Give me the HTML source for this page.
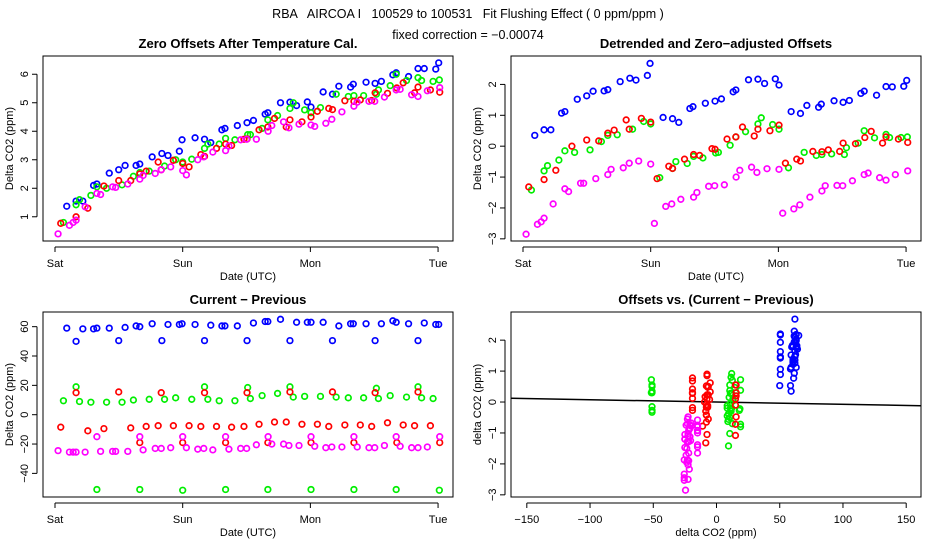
<!DOCTYPE html>
<html><head><meta charset="utf-8">
<style>
body{margin:0;background:#fff;}
svg{display:block;font-family:"Liberation Sans",sans-serif;}
</style></head>
<body>
<svg id="c" width="936" height="540" viewBox="0 0 936 540">
<text x="468" y="18" text-anchor="middle" font-size="12.5" style="white-space:pre">RBA   AIRCOA I   100529 to 100531   Fit Flushing Effect ( 0 ppm/ppm )</text>
<text x="468" y="39" text-anchor="middle" font-size="12.5">fixed correction = −0.00074</text>
</svg>
<script>
const colorNames=['blue','green','red','magenta'];
const colors=['#0000ff','#00ee00','#ff0000','#ff00ff'];
const blueTime=[0.092,0.165,0.218,0.302,0.328,0.425,0.499,0.549,0.635,0.664,0.761,0.837,0.885,0.974,0.995,1.097,1.171,1.220,1.307,1.331,1.428,1.504,1.554,1.646,1.667,1.766,1.840,1.892,1.976,2.005,2.100,2.173,2.223,2.315,2.336,2.436,2.507,2.556,2.646,2.672,2.769,2.843,2.892,2.982,3.005];
const blueOffset=[1.37,1.55,1.55,2.1,2.15,2.53,2.65,2.8,2.8,2.85,3.1,3.22,3.15,3.3,3.7,3.77,3.72,3.6,4.05,4.1,4.2,4.3,4.38,4.6,4.65,5.0,5.02,4.9,5.03,4.85,5.38,5.3,5.58,5.55,5.65,5.72,5.68,5.75,5.98,6.05,5.92,6.2,6.2,6.18,6.4];
const blueDetrended=[0.35,0.53,0.53,1.07,1.12,1.52,1.63,1.78,1.79,1.83,2.09,2.2,2.14,2.29,2.68,0.93,0.89,0.77,1.22,1.28,1.39,1.46,1.53,1.76,1.82,2.15,2.17,2.03,2.18,1.98,1.12,1.06,1.32,1.26,1.36,1.47,1.42,1.48,1.71,1.78,1.65,1.93,1.92,1.94,2.13];
const blueDiff=[59,50,58.5,58.5,59,59,50.5,59.5,60.5,60,62,50.5,61.5,61.5,62,61.5,50.5,61,60.5,60.5,60.5,50.5,62.5,63.5,63.5,65,50.5,63,63,63,63,50.5,60.5,62,62,62,50.5,62,64,63,62,50.5,62.5,61.5,61.5];
const greenTime=[0.066,0.165,0.192,0.281,0.328,0.404,0.525,0.614,0.664,0.738,0.858,0.945,1.0,1.071,1.171,1.197,1.286,1.336,1.409,1.509,1.530,1.622,1.667,1.743,1.840,1.866,1.955,2.005,2.079,2.202,2.297,2.341,2.417,2.517,2.533,2.625,2.672,2.753,2.843,2.871,2.961,3.010];
const greenOffset=[0.8,1.42,1.6,1.75,2.05,2.0,2.12,2.42,2.55,2.6,2.78,3.0,2.92,3.02,3.4,3.55,3.55,3.75,3.7,3.88,3.88,4.1,4.4,4.55,4.8,5.0,4.75,4.65,4.83,5.3,5.22,5.25,5.25,5.3,5.45,5.6,6.0,5.78,5.88,5.78,5.75,5.8];
const greenDetrended=[-1.42,-0.8,-0.63,-0.45,-0.15,-0.2,-0.12,0.15,0.35,0.37,0.55,0.8,0.72,-1.02,-0.72,-0.5,-0.56,-0.33,-0.38,-0.22,-0.2,0.03,0.3,0.47,0.72,0.92,0.7,0.55,-0.7,-0.2,-0.3,-0.27,-0.25,-0.27,-0.05,0.1,0.5,0.27,0.38,0.28,0.28,0.3];
const greenDiff=[9.5,19,9,8.5,-51,8.5,8.5,10,-51,10.5,10.5,11.5,-51.5,10.5,19,10.5,9.5,-51,9.5,18.5,11,13,-51,14.5,19,12,12.5,-51,12.5,12,11.5,-51,11.5,18,11,13,-51,12,19,11.5,11,-51.5];
const redTime=[0.045,0.165,0.257,0.383,0.499,0.593,0.664,0.714,0.808,0.832,0.927,1.0,1.050,1.142,1.171,1.265,1.336,1.383,1.480,1.504,1.598,1.667,1.719,1.811,1.840,1.934,2.005,2.055,2.144,2.173,2.270,2.341,2.391,2.480,2.507,2.604,2.677,2.727,2.816,2.843,2.940,3.013];
const redOffset=[0.77,1.0,1.3,2.08,2.27,2.27,2.5,2.6,2.92,2.65,2.98,2.87,2.75,3.18,3.12,3.4,3.55,3.5,3.72,3.73,4.05,4.15,4.45,4.15,4.4,4.33,4.5,4.7,4.8,4.76,5.07,5.05,5.1,5.08,5.35,5.33,5.52,5.7,5.35,5.55,5.45,5.37];
const redDetrended=[-1.32,-1.08,-0.78,0.0,0.2,0.17,0.42,0.52,0.85,0.55,0.9,0.78,-1.05,-0.65,-0.72,-0.42,-0.27,-0.3,-0.08,-0.1,0.23,0.3,0.62,0.33,0.55,0.5,0.68,-0.55,-0.42,-0.48,-0.17,-0.18,-0.12,-0.17,0.1,0.08,0.28,0.48,0.1,0.3,0.23,0.12];
const redDiff=[-8.5,15,-11,-9.5,15.5,-9,-19,-8,-7.5,15,-7.5,-19,-7.5,-8,15,-8,-19,-8.5,-8,15,-6.5,-19,-5,-5,15.5,-6.5,-19,-6.5,-8,15.5,-7,-19,-7,-8,15,-5.5,-19,-7,-7.5,15.5,-7.5,-19];
const magentaTime=[0.024,0.113,0.142,0.165,0.236,0.328,0.357,0.451,0.475,0.570,0.664,0.690,0.785,0.832,0.906,1.0,1.029,1.118,1.165,1.236,1.336,1.362,1.454,1.501,1.577,1.669,1.698,1.790,1.832,1.911,2.005,2.034,2.121,2.168,2.247,2.341,2.367,2.459,2.504,2.580,2.672,2.703,2.793,2.843,2.916,3.013];
const magentaOffset=[0.4,0.7,0.8,0.88,1.35,1.82,1.78,2.05,2.03,2.15,2.32,2.45,2.52,2.65,2.75,2.62,2.47,3.0,3.1,3.27,3.32,3.48,3.7,3.72,3.72,4.0,4.2,4.33,4.12,4.25,4.22,4.17,4.28,4.42,4.68,4.88,5.02,5.05,5.05,5.2,5.45,5.47,5.28,5.22,5.42,5.53];
const magentaDetrended=[-2.85,-2.53,-2.45,-2.33,-1.87,-1.38,-1.47,-1.2,-1.2,-1.05,-0.92,-0.75,-0.7,-0.55,-0.48,-0.58,-2.5,-1.95,-1.87,-1.72,-1.65,-1.5,-1.3,-1.28,-1.25,-1.0,-0.78,-0.68,-0.85,-0.73,-0.75,-2.17,-2.03,-1.9,-1.65,-1.45,-1.28,-1.27,-1.28,-1.12,-0.92,-0.87,-1.02,-1.1,-0.92,-0.8];
const magentaDiff=[-24.5,-25.5,-25.5,-25.5,-25.5,-15,-25,-25,-25,-25,-15,-24,-23,-23,-22.5,-15,-22.5,-23.5,-23,-24,-15,-23.5,-23,-23,-20.5,-15,-20,-20,-21,-21,-15,-21.5,-22.5,-22,-22,-15,-22,-22.5,-22.5,-21,-15,-21.5,-22.5,-22.5,-22,-15];
const dayTickLabels=['Sat','Sun','Mon','Tue'];
const dayTicks=[0,1,2,3];
const offsetTicks=[1,2,3,4,5,6];
const detrendTicks=[-3,-2,-1,0,1,2];
const diffTicks=[-40,-20,0,20,40,60];
const diffXTicks=[-150,-100,-50,0,50,100,150];
const fixedCorrection=-0.00074;

const series=[
 {t:blueTime,o:blueOffset,d:blueDetrended,f:blueDiff},
 {t:greenTime,o:greenOffset,d:greenDetrended,f:greenDiff},
 {t:redTime,o:redOffset,d:redDetrended,f:redDiff},
 {t:magentaTime,o:magentaOffset,d:magentaDetrended,f:magentaDiff}];

const NS='http://www.w3.org/2000/svg';
const svg=document.getElementById('c');
function mk(tag,attrs,parent){const e=document.createElementNS(NS,tag);for(const k in attrs)e.setAttribute(k,attrs[k]);(parent||svg).appendChild(e);return e;}
function lin(d0,d1,r0,r1){return v=>r0+(v-d0)*(r1-r0)/(d1-d0);}

function panel(o){
 const g=mk('g',{});
 
 
 const sx=lin(o.xd[0],o.xd[1],o.box[0],o.box[2]);
 const sy=lin(o.yd[0],o.yd[1],o.box[3],o.box[1]);
 const t=mk('text',{x:(o.box[0]+o.box[2])/2,y:o.box[1]-8,'text-anchor':'middle','font-size':'13','font-weight':'bold'},g);
 t.textContent=o.title;
 
 
 const r=mk('rect',{x:o.box[0],y:o.box[1],width:o.box[2]-o.box[0],height:o.box[3]-o.box[1],fill:'none',stroke:'#000','stroke-width':1},g);
 
 
 const xa=mk('g',{},g);
 
 
 const ax=o.box[3]+6;
 mk('line',{x1:sx(o.xt[0]),x2:sx(o.xt[o.xt.length-1]),y1:ax,y2:ax,stroke:'#000'},xa);
 o.xt.forEach((v,i)=>{
  const x=sx(v);
  mk('line',{x1:x,x2:x,y1:ax,y2:ax+5,stroke:'#000'},xa);
  const l=mk('text',{x:x,y:ax+20,'text-anchor':'middle','font-size':'11'},xa);
  l.textContent=o.xl[i];
  
  
 });
 const xt=mk('text',{x:(o.box[0]+o.box[2])/2,y:ax+33,'text-anchor':'middle','font-size':'11'},xa);
 xt.textContent=o.xtitle;
 
 
 const ya=mk('g',{},g);
 
 
 const ayx=o.box[0]-6;
 mk('line',{x1:ayx,x2:ayx,y1:sy(o.yt[0]),y2:sy(o.yt[o.yt.length-1]),stroke:'#000'},ya);
 o.yt.forEach(v=>{
  const y=sy(v);
  mk('line',{x1:ayx-5,x2:ayx,y1:y,y2:y,stroke:'#000'},ya);
  const l=mk('text',{x:0,y:0,'text-anchor':'middle','font-size':'11',transform:`translate(${ayx-9},${y}) rotate(-90)`},ya);
  l.textContent=String(v).replace('-','−');
  
  
 });
 const yt=mk('text',{x:0,y:0,'text-anchor':'middle','font-size':'11',transform:`translate(${o.box[0]-30},${(o.box[1]+o.box[3])/2}) rotate(-90)`},ya);
 yt.textContent=o.ytitle;
 
 
 if(o.line){
  const ln=mk('line',{x1:sx(o.xd[0]),x2:sx(o.xd[1]),y1:sy(o.line*o.xd[0]),y2:sy(o.line*o.xd[1]),stroke:'#000','stroke-width':1.5},g);
  
  
 }
 series.forEach((s,ci)=>{
  const sg=mk('g',{},g);
  
  
  const xs=s[o.xk],ys=s[o.yk];
  xs.forEach((xv,i)=>{
   const c=mk('circle',{cx:sx(xv),cy:sy(ys[i]),r:2.8,fill:'none',stroke:colors[ci],'stroke-width':1.7},sg);
   
   
  });
 });
}
panel({name:'zero-offsets-panel',title:'Zero Offsets After Temperature Cal.',box:[43,56,453,241],xd:[-0.094,3.117],yd:[0.15,6.64],xt:dayTicks,xl:dayTickLabels,yt:offsetTicks,xk:'t',yk:'o',xtitle:'Date (UTC)',ytitle:'Delta CO2 (ppm)'});
panel({name:'detrended-panel',title:'Detrended and Zero−adjusted Offsets',box:[511,56,921,241],xd:[-0.094,3.117],yd:[-3.07,2.92],xt:dayTicks,xl:dayTickLabels,yt:detrendTicks,xk:'t',yk:'d',xtitle:'Date (UTC)',ytitle:'Delta CO2 (ppm)'});
panel({name:'current-previous-panel',title:'Current − Previous',box:[43,312,453,497],xd:[-0.094,3.117],yd:[-56.1,70.0],xt:dayTicks,xl:dayTickLabels,yt:diffTicks,xk:'t',yk:'f',xtitle:'Date (UTC)',ytitle:'Delta CO2 (ppm)'});
panel({name:'offsets-vs-diff-panel',title:'Offsets vs. (Current − Previous)',box:[511,312,921,497],xd:[-162.5,161.7],yd:[-3.07,2.91],xt:diffXTicks,xl:diffXTicks.map(v=>String(v).replace('-','−')),yt:detrendTicks,xk:'f',yk:'d',xtitle:'delta CO2 (ppm)',ytitle:'delta CO2 (ppm)',line:fixedCorrection});
</script>
</body></html>
